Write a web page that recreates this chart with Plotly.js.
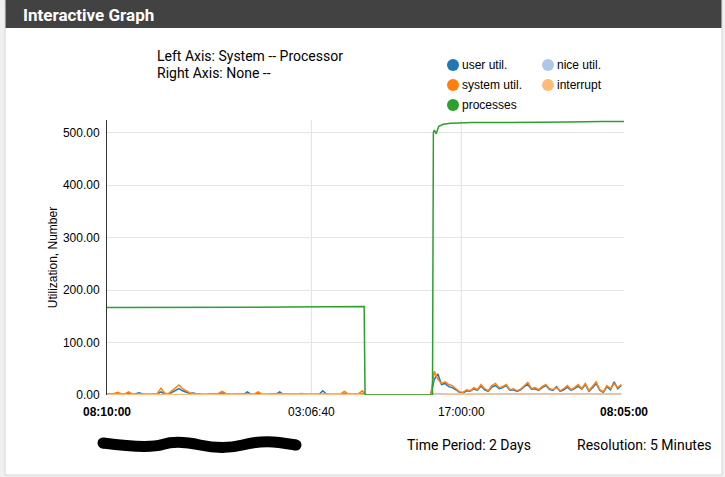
<!DOCTYPE html>
<html>
<head>
<meta charset="utf-8">
<script src="https://cdn.plot.ly/plotly-3.0.1.min.js"></script>
<style>html,body{margin:0;padding:0;background:#f0f0f0;}#chart{width:725px;height:477px;}</style>
</head>
<body>
<div id="chart"></div>
<script>
// ---- data (20-minute samples starting 2024-05-01 08:10:00) ----
const seriesNames = ['user util.', 'nice util.', 'system util.', 'interrupt', 'processes'];
const seriesColors = ['#1f77b4', '#aec7e8', '#ff7f0e', '#ffbb78', '#2ca02c'];

const userUtil = [
  1,1.5,1,2,1,1.5,3,1,2,4,
  1.5,1,1,1.5,2,6,2,1,5,9,
  12,8,6,3,4,2,1.5,1,1,1.5,
  1,2,4,1.5,1,1,1,1.5,1,6,
  1.5,1,3,1,1,1,1,1.5,6,1,
  1,1,1,1,2,1,1,1,1,1.5,
  8,2,1,1,1,1,3,1.5,1,1,
  1,3,
  0,0,0,0,0,0,0,0,0,0,0,0,0,0,0,0,0,0,0,
  30,40,20,22,16,14,10,5,4,8,
  7,12,9,17,10,7,15,18,12,14,
  18,9,10,7,10,16,20,11,12,9,
  14,18,11,9,16,7,10,15,9,12,
  17,11,20,7,14,22,9,5,16,10,
  25,12,18
];
const systemUtil = [
  2,2,3,5,2,2,6,2,2,3,
  2,2,1.5,2,3,13,4,2,8,14,
  19,12,8,4,3,2,2,1.5,2,2,
  2,3,7,3,2,1.5,2,2,2,3,
  2,2,6,2,1.5,2,2,2,3,2,
  1.5,2,2,1.5,3,2,1.5,2,2,2,
  3,2,1.5,2,2,2,7,2,2,2,
  3,8,
  0,0,0,0,0,0,0,0,0,0,0,0,0,0,0,0,0,0,0,
  45,30,22,25,20,18,12,6,5,10,
  8,14,10,20,12,8,18,22,14,16,
  20,10,12,8,11,18,24,12,14,10,
  16,20,12,10,14,8,12,18,10,14,
  20,12,22,8,16,25,10,6,18,12,
  22,14,20
];
const interruptUtil = [
  1,1,1,1.2,1,1,1.2,1,1,1,
  1,1,1,1,1,1.5,1,1,1.2,1.5,
  1.8,1.5,1.2,1,1,1,1,1,1,1,
  1,1,1.2,1,1,1,1,1,1,1,
  1,1,1.2,1,1,1,1,1,1,1,
  1,1,1,1,1,1,1,1,1,1,
  1,1,1,1,1,1,1.2,1,1,1,
  1,1.2,
  0,0,0,0,0,0,0,0,0,0,0,0,0,0,0,0,0,0,0,
  3,2.5,2.5,2.5,2,2,2,1.5,1.5,2,
  2,2,2,2.5,2,2,2,2.5,2,2,
  2.5,2,2,2,2,2,2.5,2,2,2,
  2,2.5,2,2,2,2,2,2.5,2,2,
  2.5,2,2.5,2,2,2.5,2,1.5,2,2,
  2.5,2,2.5
];
const niceUtil = [
  0,0,0,0,0,0,0,0,0,0,0,0,0,0,0,0,0,0,0,0,0,0,0,0,
  0,0,0,0,0,0,0,0,0,0,0,0,0,0,0,0,0,0,0,0,0,0,0,0,
  0,0,0,0,0,0,0,0,0,0,0,0,0,0,0,0,0,0,0,0,0,0,0,0,
  0,0,0,0,0,0,0,0,0,0,0,0,0,0,0,0,0,0,0,0,0,0,0,0,
  0,0,0,0,0,0,0,0,0,0,0,0,0,0,0,0,0,0,0,0,0,0,0,0,
  0,0,0,0,0,0,0,0,0,0,0,0,0,0,0,0,0,0,0,0,0,0,0,0
];

const procTimes = [
  '2024-05-01 08:10:00','2024-05-01 10:30:00','2024-05-01 14:00:00','2024-05-01 17:30:00',
  '2024-05-01 21:00:00','2024-05-02 01:00:00','2024-05-02 04:30:00','2024-05-02 08:00:00',
  '2024-05-02 08:05:00','2024-05-02 14:20:00','2024-05-02 14:25:00','2024-05-02 14:30:00',
  '2024-05-02 14:40:00','2024-05-02 14:55:00','2024-05-02 15:20:00','2024-05-02 16:00:00',
  '2024-05-02 18:00:00','2024-05-02 21:00:00','2024-05-03 00:00:00','2024-05-03 03:00:00',
  '2024-05-03 06:00:00','2024-05-03 08:05:00'
];
const procValues = [
  166.5,166.5,167,167,167.5,167.5,168,168.5,
  0,0,500,505,498,512,516,518,
  519,519,520,520,521,521
];

const xRange = ['2024-05-01 08:10:00', '2024-05-03 08:05:00'];
const xTickVals = ['2024-05-01 08:10:00', '2024-05-02 03:06:40', '2024-05-02 17:00:00', '2024-05-03 08:05:00'];
const xTickText = ['<b>08:10:00</b>', '03:06:40', '17:00:00', '<b>08:05:00</b>'];
const xGridVals = ['2024-05-02 03:06:40', '2024-05-02 17:00:00'];
const yTickVals = [0, 100, 200, 300, 400, 500];

// sample timestamps
function fmt(d) {
  const p = n => String(n).padStart(2, '0');
  return d.getUTCFullYear() + '-' + p(d.getUTCMonth() + 1) + '-' + p(d.getUTCDate()) + ' ' +
    p(d.getUTCHours()) + ':' + p(d.getUTCMinutes()) + ':' + p(d.getUTCSeconds());
}
const t0 = Date.UTC(2024, 4, 1, 8, 10, 0);
const utilTimes = userUtil.map((_, i) => fmt(new Date(t0 + i * 20 * 60000)));

// ---- layout helpers (pixel -> paper) ----
const W = 725, H = 477, ML = 107, MR = 101, MT = 120, MB = 82;
const PW = W - ML - MR, PH = H - MT - MB;
const X = px => (px - ML) / PW;
const Y = py => (H - MB - py) / PH;

const ys = [userUtil, niceUtil, systemUtil, interruptUtil];
const traces = ys.map((arr, k) => ({
  x: utilTimes, y: arr, type: 'scatter', mode: 'lines', name: seriesNames[k],
  line: {color: seriesColors[k], width: 1.5}, showlegend: false
}));
traces.push({x: procTimes, y: procValues, type: 'scatter', mode: 'lines', name: seriesNames[4],
  line: {color: seriesColors[4], width: 1.5}, showlegend: false});

const shapes = [
  {type: 'rect', xref: 'paper', yref: 'paper', x0: X(5), x1: X(722), y0: Y(475), y1: Y(0),
   fillcolor: '#ffffff', line: {color: '#d6d6d6', width: 1}, layer: 'below'},
  {type: 'rect', xref: 'paper', yref: 'paper', x0: X(5.5), x1: X(721.5), y0: Y(28), y1: Y(0),
   fillcolor: '#424242', line: {width: 0}, layer: 'below'}
];
xGridVals.forEach(v => shapes.push({type: 'line', xref: 'x', yref: 'paper', x0: v, x1: v, y0: 0, y1: 1,
  line: {color: '#e2e2e2', width: 1}, layer: 'below'}));

// redaction scribble
const scr = [[103,443],[148,449],[177,440],[223,450],[262,440],[296,445]];
let path = 'M ' + X(scr[0][0]) + ',' + Y(scr[0][1]);
for (let i = 1; i < scr.length - 1; i++) {
  const mx = (scr[i][0] + scr[i+1][0]) / 2, my = (scr[i][1] + scr[i+1][1]) / 2;
  path += ' Q ' + X(scr[i][0]) + ',' + Y(scr[i][1]) + ' ' + X(mx) + ',' + Y(my);
}
path += ' L ' + X(scr[scr.length-1][0]) + ',' + Y(scr[scr.length-1][1]);
shapes.push({type: 'path', xref: 'paper', yref: 'paper', path: path, line: {color: '#000', width: 11}});
[scr[0], scr[scr.length-1]].forEach(p => shapes.push({type: 'circle', xref: 'paper', yref: 'paper',
  xsizemode: 'pixel', ysizemode: 'pixel', xanchor: X(p[0]), yanchor: Y(p[1]),
  x0: -5.5, x1: 5.5, y0: -5.5, y1: 5.5, fillcolor: '#000', line: {width: 0}}));

// legend (manual)
const legPos = [[453,65],[548,65],[453,85],[548,85],[453,105]];
const annotations = [];
seriesNames.forEach((n, k) => {
  const [cx, cy] = legPos[k];
  shapes.push({type: 'circle', xref: 'paper', yref: 'paper', xsizemode: 'pixel', ysizemode: 'pixel',
    xanchor: X(cx), yanchor: Y(cy), x0: -6, x1: 6, y0: -6, y1: 6,
    fillcolor: seriesColors[k], line: {width: 0}});
  annotations.push({xref: 'paper', yref: 'paper', x: X(cx + 7), y: Y(cy), xanchor: 'left', yanchor: 'middle',
    text: n, showarrow: false, font: {family: 'Liberation Sans, Arial, sans-serif', size: 12, color: '#000'}});
});

const tf = {family: 'Roboto, sans-serif', size: 14, color: '#000'};
annotations.push(
  {xref: 'paper', yref: 'paper', x: X(21), y: Y(15), xanchor: 'left', yanchor: 'middle', showarrow: false,
   text: '<b>Interactive Graph</b>', font: {family: 'Roboto, sans-serif', size: 17, color: '#ffffff'}},
  {xref: 'paper', yref: 'paper', x: X(155), y: Y(56), xanchor: 'left', yanchor: 'middle', showarrow: false,
   text: 'Left Axis: System -- Processor', font: tf},
  {xref: 'paper', yref: 'paper', x: X(155), y: Y(73), xanchor: 'left', yanchor: 'middle', showarrow: false,
   text: 'Right Axis: None --', font: tf},
  {xref: 'paper', yref: 'paper', x: X(405), y: Y(445), xanchor: 'left', yanchor: 'middle', showarrow: false,
   text: 'Time Period: 2 Days', font: tf},
  {xref: 'paper', yref: 'paper', x: X(575), y: Y(445), xanchor: 'left', yanchor: 'middle', showarrow: false,
   text: 'Resolution: 5 Minutes', font: tf}
);

const axFont = {family: 'Liberation Sans, Arial, sans-serif', size: 12, color: '#000'};
const layout = {
  width: W, height: H,
  margin: {l: ML, r: MR, t: MT, b: MB, pad: 0},
  paper_bgcolor: '#f0f0f0', plot_bgcolor: 'rgba(0,0,0,0)',
  showlegend: false,
  xaxis: {type: 'date', range: xRange, tickvals: xTickVals, ticktext: xTickText, tickfont: axFont,
    showgrid: false, zeroline: false, showline: false, ticks: '', ticklabelstandoff: 8, fixedrange: true},
  yaxis: {range: [0, 524], tickvals: yTickVals, tickformat: '.2f', tickfont: axFont,
    showgrid: true, gridcolor: '#e5e5e5', zeroline: false, showline: true, linecolor: '#333', linewidth: 1,
    ticks: '', ticklabelstandoff: 4,
    title: {text: 'Utilization, Number', font: axFont, standoff: 2}},
  shapes: shapes, annotations: annotations
};
Plotly.newPlot('chart', traces, layout, {staticPlot: true, displayModeBar: false});
</script>
</body>
</html>
